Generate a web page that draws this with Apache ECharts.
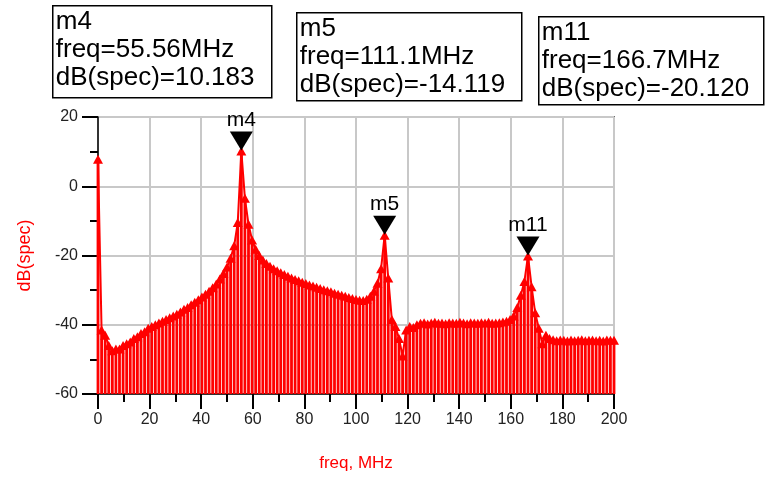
<!DOCTYPE html>
<html>
<head>
<meta charset="utf-8">
<script src="https://cdn.jsdelivr.net/npm/echarts@6/dist/echarts.min.js"></script>
<style>
  html, body { margin: 0; padding: 0; background: #fff; }
  #chart { width: 765px; height: 477px; }
</style>
</head>
<body>
<div id="chart"></div>
<script>
// Спектр: шаг по частоте 55.56/40 МГц, 145 точек 0..200 МГц
const FREQ_STEP = 200 / 144;
const dbSpec = [
  7.8, -41.5, -43, -46, -47.5, -47, -47, -46, -45.5, -45,
  -44, -43.5, -42.5, -42, -41, -40.5, -40, -39.5, -39, -38.5,
  -38, -37.5, -37, -36.3, -35.5, -35, -34.2, -33.5, -32.8, -32,
  -31.2, -30.3, -29.3, -28.2, -26.8, -25.2, -23.3, -20.8, -17.2, -10.5,
  10.183, -3.5, -11, -15.5, -18.2, -20, -21.3, -22.3, -23.1, -23.8,
  -24.4, -25, -25.5, -26, -26.5, -26.9, -27.3, -27.7, -28.1, -28.5,
  -28.8, -29.2, -29.5, -29.9, -30.2, -30.5, -30.9, -31.2, -31.5, -31.8,
  -32.1, -32.4, -32.7, -32.9, -33, -32.6, -31.8, -30.3, -28, -23.8,
  -14.119, -26.5, -38.5, -40.5, -44, -49, -41.5, -40.5, -40.8, -40,
  -39.6, -39.4, -39.8, -39.5, -39.3, -39.6, -39.5, -39.7, -39.4, -39.5,
  -39.6, -39.3, -39.5, -39.7, -39.4, -39.5, -39.6, -39.4, -39.5, -39.3,
  -39.6, -39.5, -39.4, -39.2, -39.0, -38.5, -37.5, -35, -31.5, -27.5,
  -20.12, -29, -36.5, -41, -45.5, -43, -44, -44.3, -44.6, -44.4,
  -44.5, -44.7, -44.4, -44.6, -44.5, -44.3, -44.6, -44.5, -44.4, -44.6,
  -44.5, -44.7, -44.4, -44.5, -44.5
];

// Маркеры
const markerNames = ['m4', 'm5', 'm11'];
const markerFreqLabels = ['55.56MHz', '111.1MHz', '166.7MHz'];
const markerFreqs = [55.556, 111.111, 166.667];
const markerDb = [10.183, -14.119, -20.120];
const markerDbLabels = ['10.183', '-14.119', '-20.120'];

// Тики осей
const xTicks = { min: 0, max: 200, step: 20 };
const yTicks = { min: -60, max: 20, step: 20 };

const points = dbSpec.map((v, i) => [i * FREQ_STEP, v]);

const chart = echarts.init(document.getElementById('chart'), null, { renderer: 'canvas' });

const FONT = '"Liberation Sans", Arial, sans-serif';
const RED = '#ff0000';

// Рамки с подписями маркеров
const boxes = [
  { x: 52, y: 5, w: 219, h: 92 },
  { x: 296, y: 12, w: 225, h: 88 },
  { x: 538, y: 16, w: 225, h: 88 }
];
const graphics = boxes.map((b, k) => ({
  type: 'group',
  left: b.x,
  top: b.y,
  children: [
    { type: 'rect', shape: { x: 0, y: 0, width: b.w, height: b.h },
      style: { fill: '#fff', stroke: '#000', lineWidth: 1.5 } },
    { type: 'text', x: 3, y: 2,
      style: { text: markerNames[k] + '\nfreq=' + markerFreqLabels[k] + '\ndB(spec)=' + markerDbLabels[k],
        font: '26px ' + FONT, fill: '#000', lineHeight: 28 } }
  ]
}));

const option = {
  animation: false,
  backgroundColor: '#fff',
  grid: { left: 98, right: 151, top: 117, bottom: 82, show: true, borderColor: '#000', borderWidth: 1.5 },
  xAxis: {
    type: 'value',
    min: xTicks.min, max: xTicks.max, interval: xTicks.step,
    name: 'freq, MHz', nameLocation: 'middle', nameGap: 61,
    nameTextStyle: { color: RED, fontSize: 17, fontFamily: FONT },
    axisLine: { onZero: false, lineStyle: { color: '#000', width: 1.5 } },
    axisTick: { length: 15, lineStyle: { color: '#000', width: 2 } },
    minorTick: { show: true, splitNumber: 2, length: 8, lineStyle: { color: '#000', width: 2 } },
    splitLine: { show: true, lineStyle: { color: '#c8c8c8', width: 2 } },
    axisLabel: { color: '#222', fontSize: 16, fontFamily: FONT, margin: 18 }
  },
  yAxis: {
    type: 'value',
    min: yTicks.min, max: yTicks.max, interval: yTicks.step,
    name: 'dB(spec)', nameLocation: 'middle', nameGap: 64, nameRotate: 90,
    nameTextStyle: { color: RED, fontSize: 18, fontFamily: FONT },
    axisLine: { show: true, onZero: false, lineStyle: { color: '#000', width: 1.5 } },
    axisTick: { show: true, length: 16, lineStyle: { color: '#000', width: 2 } },
    minorTick: { show: true, splitNumber: 2, length: 8, lineStyle: { color: '#000', width: 2 } },
    splitLine: { show: true, lineStyle: { color: '#c8c8c8', width: 2 } },
    axisLabel: { color: '#222', fontSize: 16, fontFamily: FONT, margin: 20 }
  },
  graphic: graphics,
  series: [
    {
      // стойки от нижней границы до значения
      type: 'custom',
      data: points,
      silent: true,
      z: 2,
      renderItem: function (params, api) {
        const f = api.value(0);
        const p0 = api.coord([f, yTicks.min]);
        const p1 = api.coord([f, api.value(1)]);
        return {
          type: 'line',
          shape: { x1: p0[0], y1: p0[1], x2: p1[0], y2: p1[1] },
          style: { stroke: RED, lineWidth: 2.8 }
        };
      }
    },
    {
      type: 'line',
      data: points,
      z: 3,
      symbol: 'triangle',
      symbolSize: [10, 9],
      showAllSymbol: true,
      itemStyle: { color: RED },
      lineStyle: { color: RED, width: 2 },
      markPoint: {
        symbol: 'triangle',
        symbolRotate: 180,
        symbolSize: [23, 19],
        symbolOffset: [0, -10],
        itemStyle: { color: '#000' },
        label: { show: true, position: 'top', distance: 1, color: '#000', fontSize: 21, fontFamily: FONT,
          formatter: p => p.name },
        data: markerNames.map((n, k) => ({ name: n, coord: [markerFreqs[k], markerDb[k]] }))
      }
    }
  ]
};

chart.setOption(option);
</script>
</body>
</html>
